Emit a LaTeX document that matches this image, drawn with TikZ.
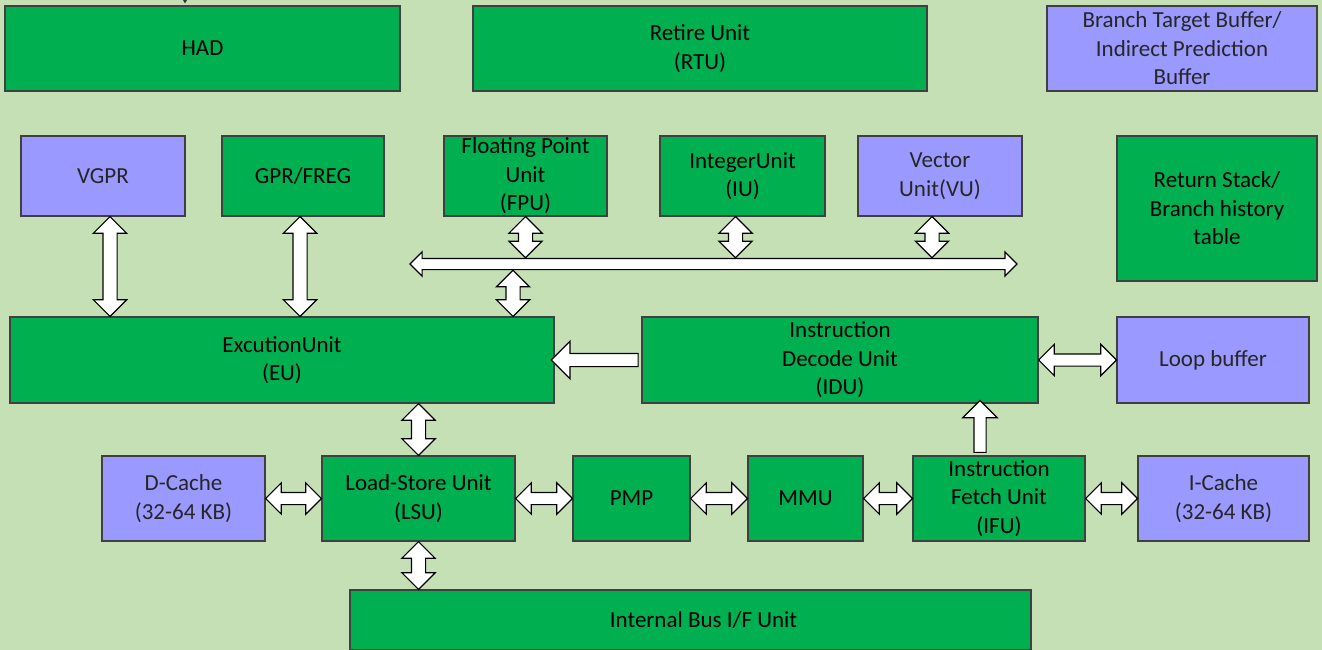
\documentclass[tikz,border=0pt]{standalone}
\usepackage{fontspec}
\setmainfont{Carlito}
\usetikzlibrary{positioning,calc,shapes.arrows,arrows.meta}
\tikzset{>=stealth}
\definecolor{bg}{HTML}{C5E0B4}
\definecolor{unitgreen}{HTML}{00B050}
\definecolor{unitblue}{HTML}{9999FF}
\tikzset{
  unit/.style={draw=black!75, line width=1.2pt, fill=unitgreen, align=center, inner sep=0pt,
    text=black, font=\fontsize{23}{28.5}\selectfont},
  extunit/.style={unit, fill=unitblue, text=black!85},
  sz/.style 2 args={minimum width=#1pt, minimum height=#2pt},
  fat/.style={draw=black, fill=white, line width=1.2pt},
  dblv/.style={fat, double arrow, shape border rotate=90, inner sep=6.5pt, double arrow head extend=9.5pt},
  dblh/.style={fat, double arrow, inner sep=5.5pt, double arrow head extend=9.5pt},
  busarrow/.style={fat, double arrow, inner sep=5pt, double arrow head extend=6.5pt},
  sglup/.style={fat, single arrow, shape border rotate=90, inner sep=5.5pt, single arrow head extend=11pt},
  sglleft/.style={fat, single arrow, shape border rotate=180, inner sep=6pt, single arrow head extend=12pt}
}
% fat block arrow between two points: style, from, to
\newcommand\fatlink[3]{%
  \path let \p1=(#2), \p2=(#3), \n1={veclen(\x2-\x1,\y2-\y1)} in
    ($(\p1)!.5!(\p2)$) node[#1, minimum height=\n1] {};}

\begin{document}
\begin{tikzpicture}[x=1pt,y=-1pt]
\fill[bg] (0,0) rectangle (1322,650);
\useasboundingbox (0,0) rectangle (1322,650);
\clip (0,0) rectangle (1322,650);
% top row
\node[unit, sz={395}{85}] (had) at (202.5,48.5) {HAD};
\node[unit, sz={454}{85}] (rtu) at (700,48.5) {Retire Unit\\(RTU)};
\node[extunit, sz={270}{85}] (btb) at (1182,48.5) {Branch Target Buffer/\\Indirect Prediction\\Buffer};
\coordinate (hadin) at (185,-12);
\draw[-{Stealth[length=6pt,width=7pt]}, line width=1.5pt, black!80] (hadin) -- ($(had.north -| hadin)+(0,-2)$);
% register files and execute units
\node[extunit, sz={164}{80}] (vgpr) at (103,176) {VGPR};
\node[unit, sz={162}{80}] (gpr) at (303,176) {GPR/FREG};
\node[unit, sz={163}{80}] (fpu) at (525.5,176) {Floating Point\\Unit\\(FPU)};
\node[unit, sz={165}{80}] (iu) at (742.5,176) {IntegerUnit\\(IU)};
\node[extunit, sz={164}{80}] (vu) at (940,176) {Vector\\Unit(VU)};
\node[unit, sz={200}{145}] (ras) at (1217,208.5) {Return Stack/\\Branch history\\table};
\node[busarrow, minimum height=607pt] (bus) at (713.5,264) {};
% middle row
\node[unit, sz={544}{86}] (eu) at (282,360) {ExcutionUnit\\(EU)};
\node[unit, sz={396}{86}] (idu) at (840,360) {Instruction\\Decode Unit\\(IDU)};
\node[extunit, sz={192}{86}] (loop) at (1213,360) {Loop buffer};
% memory row
\node[extunit, sz={163}{85}] (dcache) at (183.5,498.5) {D-Cache\\(32-64 KB)};
\node[unit, sz={193}{85}] (lsu) at (418.5,498.5) {Load-Store Unit\\(LSU)};
\node[unit, sz={117}{85}] (pmp) at (631.5,498.5) {PMP};
\node[unit, sz={115}{85}] (mmu) at (805.5,498.5) {MMU};
\node[unit, sz={172}{85}] (ifu) at (999,498.5) {Instruction\\Fetch Unit\\(IFU)};
\node[extunit, sz={171}{85}] (icache) at (1223.5,498.5) {I-Cache\\(32-64 KB)};
\node[unit, sz={681}{60}] (ibus) at (690.5,620) {\hspace{26pt}Internal Bus I/F Unit};
% arrow feet off the box centres
\coordinate (vgprdn) at ($(vgpr.south)+(7,0)$);
\coordinate (gprdn) at ($(gpr.south)+(-3,0)$);
\coordinate (iudn) at ($(iu.south)+(-7,0)$);
\coordinate (vudn) at ($(vu.south)+(-8,0)$);
\coordinate (euup) at ($(eu.north)+(231,0)$);
\coordinate (ifuup) at ($(ifu.north)+(-19,0)$);
% block arrows
\fatlink{dblv}{vgprdn}{vgprdn |- eu.north}
\fatlink{dblv}{gprdn}{gprdn |- eu.north}
\fatlink{dblv}{fpu.south}{fpu.south |- bus.north}
\fatlink{dblv}{iudn}{iudn |- bus.north}
\fatlink{dblv}{vudn}{vudn |- bus.north}
\fatlink{dblv}{euup}{euup |- bus.south}
\fatlink{sglleft}{idu.west}{eu.east}
\fatlink{dblh}{idu.east}{loop.west}
\fatlink{dblv}{eu.south -| lsu.north}{lsu.north}
\fatlink{dblv}{lsu.south}{lsu.south |- ibus.north}
\fatlink{dblh}{dcache.east}{lsu.west}
\fatlink{dblh}{lsu.east}{pmp.west}
\fatlink{dblh}{pmp.east}{mmu.west}
\fatlink{dblh}{mmu.east}{ifu.west}
\fatlink{dblh}{ifu.east}{icache.west}
\fatlink{sglup}{ifuup}{ifuup |- idu.south}
\end{tikzpicture}
\end{document}
